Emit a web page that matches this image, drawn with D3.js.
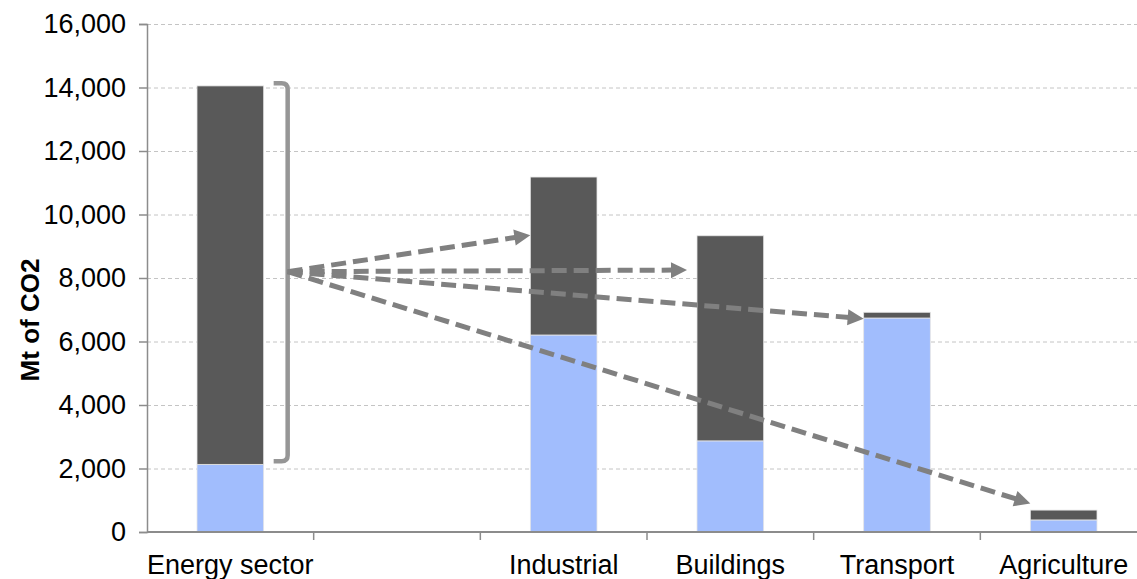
<!DOCTYPE html>
<html>
<head>
<meta charset="utf-8">
<script src="https://cdn.jsdelivr.net/npm/d3@7"></script>
<style>
  body { margin: 0; background: #fff; }
  svg { display: block; font-family: "Liberation Sans", Arial, sans-serif; }
</style>
</head>
<body>
<svg id="chart" width="1137" height="579"></svg>
<script>
// data
const categories = ["Energy sector", "", "Industrial", "Buildings", "Transport", "Agriculture"]
const directValues = [2130, 0, 6205, 2870, 6740, 380]      // light blue part
const indirectValues = [11920, 0, 4975, 6460, 180, 310]    // dark grey part
const yTicks = [0, 2000, 4000, 6000, 8000, 10000, 12000, 14000, 16000]
const bracketRange = [2230, 14130]
const arrowOrigin = 8200
const arrowTargets = ["Industrial", "Buildings", "Transport", "Agriculture"]
const arrowValues = [9350, 8250, 6720, 900]

const svg = d3.select("#chart")
const plotLeft = 147, plotTop = 24, plotBottom = 532, plotRight = 1147

let x = d3.scaleBand()
    .domain(categories)
    .range([plotLeft, plotRight])
    .padding(0)

let y = d3.scaleLinear()
    .domain([0, 16000])
    .range([plotBottom, plotTop])

const barW = x.bandwidth() * 0.4
const barX = d => x(d) + (x.bandwidth() - barW) / 2

// gridlines
svg.append("g")
    .selectAll("line")
    .data(yTicks.filter(d => d > 0))
    .enter()
    .append("line")
        .attr("x1", plotLeft)
        .attr("x2", 1137)
        .attr("y1", d => y(d) + 0.5)
        .attr("y2", d => y(d) + 0.5)
        .attr("stroke", "#c4c4c4")
        .attr("stroke-width", 1)
        .attr("stroke-dasharray", "4,3")

// stacked bars
const rows = categories.map((c, i) => ({cat: c, direct: directValues[i], indirect: indirectValues[i]}))
const stack = d3.stack().keys(["direct", "indirect"])(rows)
const colors = {direct: "#a1bdfd", indirect: "#595959"}

svg.append("g")
    .selectAll("g")
    .data(stack)
    .enter()
    .append("g")
        .attr("fill", d => colors[d.key])
    .selectAll("rect")
    .data(d => d.filter(p => p[1] > p[0]))
    .enter()
    .append("rect")
        .attr("x", d => barX(d.data.cat))
        .attr("y", d => y(d[1]))
        .attr("width", barW)
        .attr("height", d => y(d[0]) - y(d[1]))
        .attr("stroke", "#e6e6e6")
        .attr("stroke-width", 0.8)

// x axis
const xAxis = svg.append("g")
    .attr("transform", "translate(0," + plotBottom + ")")
xAxis.append("line")
    .attr("x1", plotLeft).attr("x2", 1137)
    .attr("stroke", "#8c8c8c").attr("stroke-width", 2)
xAxis.selectAll(".tk")
    .data(categories.slice(1))
    .enter()
    .append("line")
        .attr("x1", d => x(d)).attr("x2", d => x(d))
        .attr("y1", 0).attr("y2", 8)
        .attr("stroke", "#8c8c8c").attr("stroke-width", 1.5)
xAxis.selectAll("text")
    .data(categories)
    .enter()
    .append("text")
        .attr("x", d => x(d) + x.bandwidth() / 2)
        .attr("y", 42)
        .attr("text-anchor", "middle")
        .attr("font-size", "27px")
        .attr("fill", "#000")
        .text(d => d)

// y axis
const yAxis = svg.append("g")
    .attr("transform", "translate(" + plotLeft + ",0)")
    .call(d3.axisLeft(y).tickValues(yTicks).tickFormat(d3.format(",")).tickSize(8).tickPadding(13))
yAxis.select(".domain").attr("stroke", "#8c8c8c").attr("stroke-width", 1.5)
yAxis.selectAll(".tick line").attr("stroke", "#8c8c8c").attr("stroke-width", 1.5)
yAxis.selectAll(".tick text")
    .attr("font-size", "27px")
    .attr("font-family", "Liberation Sans, Arial, sans-serif")
    .attr("fill", "#000")

svg.append("text")
    .attr("transform", "translate(39,320) rotate(-90)")
    .attr("text-anchor", "middle")
    .attr("font-size", "26px")
    .attr("font-weight", "bold")
    .text("Mt of CO2")

// bracket next to the energy bar
const bx0 = barX("Energy sector") + barW + 10
const bx1 = bx0 + 14
const r = 6
const yTop = y(bracketRange[1]), yBot = y(bracketRange[0])
svg.append("path")
    .attr("d", `M${bx0},${yTop} L${bx1 - r},${yTop} Q${bx1},${yTop} ${bx1},${yTop + r}
                L${bx1},${yBot - r} Q${bx1},${yBot} ${bx1 - r},${yBot} L${bx0},${yBot}`)
    .attr("fill", "none")
    .attr("stroke", "#969696")
    .attr("stroke-width", 4.5)

// dashed arrows from the bracket to the end-use sectors
const tipGap = {Buildings: 10}
const ox = bx1, oy = y(arrowOrigin)
const arrows = svg.append("g")
arrowTargets.forEach((cat, i) => {
    const tx = barX(cat) - (tipGap[cat] || 0)
    const ty = y(arrowValues[i])
    const ang = Math.atan2(ty - oy, tx - ox)
    const headL = 16, headW = 8
    const bxh = tx - headL * Math.cos(ang), byh = ty - headL * Math.sin(ang)
    arrows.append("line")
        .attr("x1", ox).attr("y1", oy)
        .attr("x2", bxh + 2 * Math.cos(ang)).attr("y2", byh + 2 * Math.sin(ang))
        .attr("stroke", "#808080")
        .attr("stroke-width", 5)
        .attr("stroke-dasharray", "15,7")
    const px = -Math.sin(ang), py = Math.cos(ang)
    arrows.append("polygon")
        .attr("points", [
            [tx, ty],
            [bxh + px * headW, byh + py * headW],
            [bxh - px * headW, byh - py * headW]
        ].map(p => p.join(",")).join(" "))
        .attr("fill", "#808080")
})
</script>
</body>
</html>
